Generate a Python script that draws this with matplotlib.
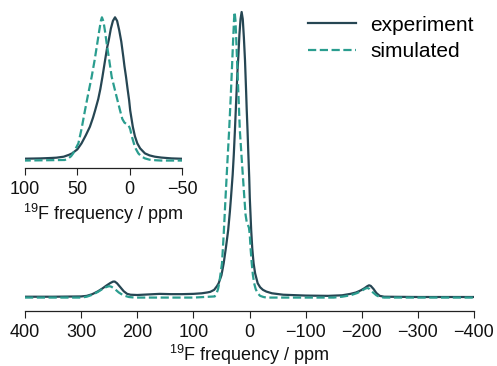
import matplotlib
matplotlib.use("Agg")
import matplotlib.pyplot as plt

plt.rcParams['font.family'] = ['Liberation Sans', 'DejaVu Sans']
plt.rcParams['mathtext.fontset'] = 'custom'
plt.rcParams['mathtext.rm'] = 'Liberation Sans'
plt.rcParams['mathtext.it'] = 'Liberation Sans:italic'

# ---- data ----
exp_ppm = [400, 350, 300, 290, 280, 270, 262, 255, 248, 243, 240, 236, 230, 224, 218, 212,
           200, 180, 160, 140, 120, 100, 85, 75, 70, 63, 58, 55, 50, 46, 42, 38, 35, 33, 30,
           28, 26, 23.5, 21.5, 20, 18, 16, 14, 12, 10, 8, 6, 5, 3.5, 2, 0.5, -0.5, -3, -5,
           -7.3, -10, -14.6, -19, -24, -30, -40, -60, -100, -140, -165, -180, -190, -198,
           -205, -210, -213, -216, -221, -226, -232, -240, -300, -400]
exp_int = [0.003, 0.003, 0.004, 0.006, 0.012, 0.022, 0.032, 0.042, 0.051, 0.056, 0.056, 0.050,
           0.036, 0.022, 0.013, 0.010, 0.009, 0.011, 0.013, 0.012, 0.012, 0.013, 0.015, 0.018,
           0.020, 0.027, 0.040, 0.050, 0.078, 0.12, 0.175, 0.236, 0.30, 0.35, 0.43, 0.50,
           0.585, 0.70, 0.79, 0.84, 0.92, 0.975, 1.0, 0.975, 0.91, 0.83, 0.72, 0.66, 0.585,
           0.50, 0.42, 0.35, 0.236, 0.17, 0.12, 0.085, 0.05, 0.036, 0.027, 0.021, 0.015,
           0.010, 0.007, 0.006, 0.008, 0.013, 0.018, 0.025, 0.033, 0.040, 0.043, 0.041,
           0.030, 0.016, 0.006, 0.003, 0.002, 0.002]

sim_ppm = [400, 300, 290, 280, 270, 262, 255, 250, 246, 240, 233, 225, 215, 205, 100, 62,
           58.6, 56, 54, 51.5, 49, 46, 42.7, 39.5, 36.3, 33.5, 30.9, 29, 27.5, 26.5, 25,
           23.5, 22, 19.5, 17.2, 13, 9.2, 7, 5, 3, 1, -0.5, -2, -4, -6, -8.3, -11, -14.6,
           -19, -25, -30, -150, -165, -180, -192, -200, -206, -210, -214, -220, -226, -232,
           -240, -400]
sim_int = [0.0, 0.0, 0.003, 0.010, 0.020, 0.030, 0.037, 0.040, 0.038, 0.030, 0.018, 0.008,
           0.002, 0.0, 0.0, 0.004, 0.015, 0.030, 0.050, 0.085, 0.12, 0.22, 0.35, 0.47, 0.585,
           0.70, 0.82, 0.91, 0.975, 1.0, 0.97, 0.90, 0.82, 0.70, 0.585, 0.46, 0.35, 0.29,
           0.265, 0.255, 0.245, 0.22, 0.17, 0.12, 0.08, 0.05, 0.03, 0.015, 0.006, 0.002,
           0.0, 0.0, 0.003, 0.008, 0.016, 0.024, 0.031, 0.034, 0.030, 0.018, 0.008, 0.002,
           0.0, 0.0]

main_ticks = [400, 300, 200, 100, 0, -100, -200, -300, -400]
inset_ticks = [100, 50, 0, -50]
xlabel = r'$^{19}$F frequency / ppm'
series_labels = ['experiment', 'simulated']

c_exp = '#264653'
c_sim = '#2a9d8f'
lw = 1.6
fs = 13

fig = plt.figure(figsize=(4.97, 3.66), dpi=100)

def style(ax, ticks, xlim, ylim, labelpad):
    ax.set_xlim(*xlim)
    ax.set_ylim(*ylim)
    for s in ['left', 'right', 'top']:
        ax.spines[s].set_visible(False)
    ax.spines['bottom'].set_linewidth(0.9)
    ax.spines['bottom'].set_color('#222222')
    ax.set_yticks([])
    ax.set_xticks(ticks)
    ax.tick_params(axis='x', length=5, width=0.8, labelsize=fs, colors='#222222',
                   labelcolor='#111111', pad=4.5)
    ax.set_xlabel(xlabel, fontsize=fs, color='#111111', labelpad=labelpad)
    ax.patch.set_alpha(0)

ax = fig.add_axes([25 / 497, 55 / 366, 449 / 497, 306 / 366])
l1, = ax.plot(exp_ppm, exp_int, color=c_exp, lw=lw, label=series_labels[0])
l2, = ax.plot(sim_ppm, sim_int, color=c_sim, lw=lw, ls='--', label=series_labels[1])
style(ax, main_ticks, (400, -400), (-0.047, 1.0245), 1.5)
ax.legend(handles=[l1, l2], loc='upper right', bbox_to_anchor=(1.0, 0.965), frameon=False,
          fontsize=15, handlelength=2.3, handletextpad=0.7, labelspacing=0.35,
          borderaxespad=0.0, borderpad=0.0)

axi = fig.add_axes([25 / 497, 198 / 366, 157 / 497, 158 / 366])
axi.plot(exp_ppm, exp_int, color=c_exp, lw=lw)
axi.plot(sim_ppm, sim_int, color=c_sim, lw=lw, ls='--')
style(axi, inset_ticks, (100, -50), (-0.052, 1.051), 3)

fig.savefig('out.png', dpi=100)
